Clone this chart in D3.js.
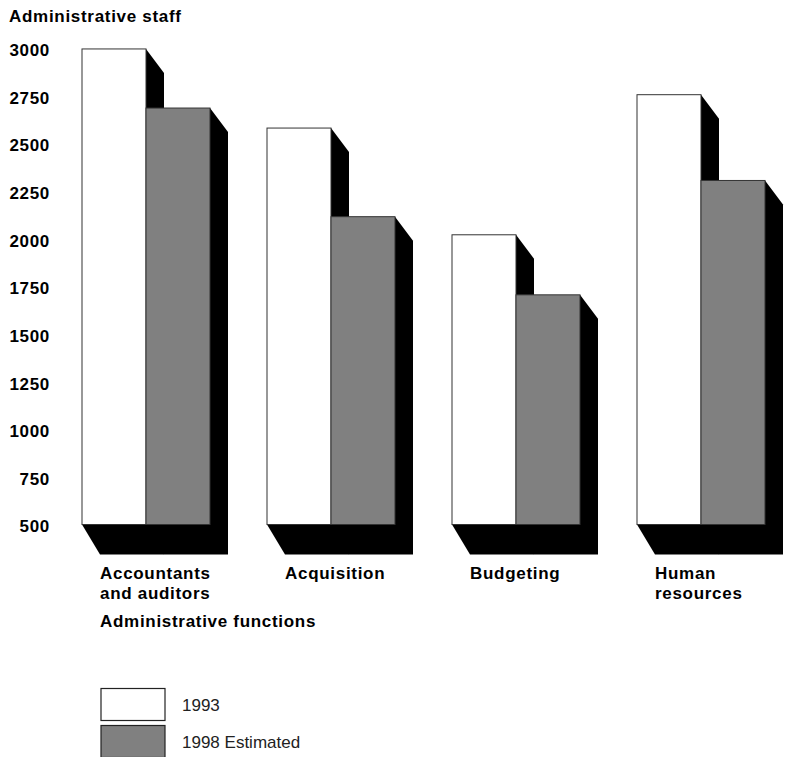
<!DOCTYPE html>
<html>
<head>
<meta charset="utf-8">
<script src="https://cdn.jsdelivr.net/npm/d3@7"></script>
<style>
  body { margin: 0; background: #fff; }
  text { font-family: "Liberation Sans", Arial, sans-serif; }
</style>
</head>
<body>
<div id="plot"></div>
<script>
// chart data
const categories = ["Accountants and auditors", "Acquisition", "Budgeting", "Human resources"];
const categoryLines = [["Accountants", "and auditors"], ["Acquisition"], ["Budgeting"], ["Human", "resources"]];
const seriesNames = ["1993", "1998 Estimated"];
const values1993 = [2995, 2580, 2020, 2755];
const values1998 = [2685, 2115, 1705, 2305];
const yTicks = [500, 750, 1000, 1250, 1500, 1750, 2000, 2250, 2500, 2750, 3000];

const width = 788, height = 757;
const colors = {"1993": "#ffffff", "1998 Estimated": "#808080"};
const shadowDx = 18, shadowDy = 24, baseDy = 30;

var svg = d3.select("#plot")
     .append("svg")
     .attr("width", width)
     .attr("height", height);

// scales
let y = d3.scaleLinear()
     .domain([500, 3000])
     .range([524.5, 48]);

let x = d3.scaleBand()
     .domain(categories)
     .range([82, 765])
     .paddingInner(57 / 185)
     .paddingOuter(0);

let xSub = d3.scaleBand()
     .domain(seriesNames)
     .range([0, x.bandwidth()]);

// flatten to bars
let bars = [];
categories.forEach(function(c, i) {
     bars.push({cat: c, series: seriesNames[0], value: values1993[i]});
     bars.push({cat: c, series: seriesNames[1], value: values1998[i]});
});

// y axis labels
let yAxis = svg.append("g")
     .attr("transform", "translate(50,2)")
     .call(d3.axisLeft(y).tickValues(yTicks).tickSize(0).tickPadding(0).tickFormat(d3.format("d")));
yAxis.select(".domain").remove();
yAxis.selectAll("text")
     .attr("font-family", "Liberation Sans, Arial, sans-serif")
     .attr("font-size", 17)
     .attr("font-weight", "bold")
     .attr("letter-spacing", 0.7)
     .attr("fill", "#000");

svg.append("text")
     .attr("x", 9)
     .attr("y", 22)
     .attr("font-size", 17)
     .attr("font-weight", "bold")
     .attr("letter-spacing", 0.7)
     .text("Administrative staff");

// shadows first
svg.selectAll(".shadow")
     .data(bars)
     .enter()
     .append("polygon")
     .attr("class", "shadow")
     .attr("fill", "#000")
     .attr("points", function(d) {
          let x0 = x(d.cat) + xSub(d.series);
          let x1 = x0 + xSub.bandwidth();
          let top = y(d.value), base = y(500);
          return [[x1, top], [x1 + shadowDx, top + shadowDy], [x1 + shadowDx, base + baseDy],
                  [x0 + shadowDx, base + baseDy], [x0, base]].map(function(p) { return p.join(","); }).join(" ");
     });

// bars
svg.selectAll(".bars")
     .data(bars)
     .enter()
     .append("rect")
     .attr("class", "bars")
     .attr("x", function(d) { return x(d.cat) + xSub(d.series); })
     .attr("y", function(d) { return y(d.value); })
     .attr("width", xSub.bandwidth())
     .attr("height", function(d) { return y(500) - y(d.value); })
     .attr("fill", function(d) { return colors[d.series]; })
     .attr("stroke", "#333")
     .attr("stroke-width", 1);

// category labels
categories.forEach(function(c, i) {
     let t = svg.append("text")
          .attr("x", x(c) + shadowDx)
          .attr("y", 579)
          .attr("font-size", 17)
          .attr("font-weight", "bold")
          .attr("letter-spacing", 0.7);
     categoryLines[i].forEach(function(line, j) {
          t.append("tspan")
               .attr("x", x(c) + shadowDx)
               .attr("dy", j == 0 ? 0 : 20)
               .text(line);
     });
});

svg.append("text")
     .attr("x", 100)
     .attr("y", 627)
     .attr("font-size", 17)
     .attr("font-weight", "bold")
     .attr("letter-spacing", 0.7)
     .text("Administrative functions");

// legend
let legend = svg.selectAll(".legend")
     .data(seriesNames)
     .enter()
     .append("g")
     .attr("class", "legend")
     .attr("transform", function(d, i) { return "translate(101," + (688.5 + i * 37) + ")"; });

legend.append("rect")
     .attr("width", 64)
     .attr("height", 32)
     .attr("fill", function(d) { return colors[d]; })
     .attr("stroke", "#222")
     .attr("stroke-width", 1.2);

legend.append("text")
     .attr("x", 81)
     .attr("y", 22)
     .attr("font-size", 17)
     .attr("fill", "#222")
     .text(function(d) { return d; });
</script>
</body>
</html>
